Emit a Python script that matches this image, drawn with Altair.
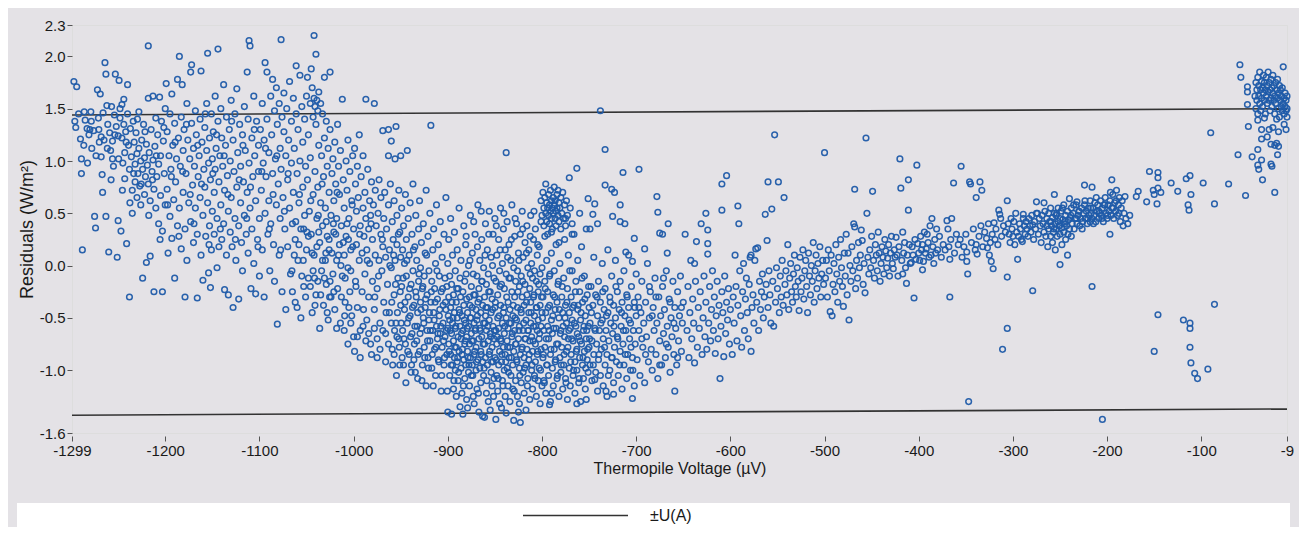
import altair as alt
import pandas as pd

# ---------------- data (Thermopile Voltage µV, Residual W/m²) ----------------
pts_a = [(-1297,1.76),(-1294,1.71),(-1296,1.38),(-1295,1.32),(-1292,1.45),(-1290,1.21),(-1289,1.02),(-1289,0.88),(-1288,0.15),(-1286,1.47),(-1285,1.39),(-1283,1.31),(-1281,1.25),(-1280,1.30),(-1279,1.47),(-1278,1.12),(-1276,1.29),(-1275,0.47),(-1274,0.36),(-1272,1.68),(-1271,1.41),(-1270,1.18),(-1269,1.64),(-1268,1.23),(-1268,1.04),(-1267,0.87),(-1266,1.46),(-1265,1.20),(-1264,1.94),(-1263,1.83),(-1263,0.47),(-1262,1.53),(-1261,1.35),(-1260,0.13),(-1259,1.27),(-1258,1.10),(-1257,1.52),(-1256,1.19),(-1256,1.02),(-1255,0.95),(-1254,1.44),(-1253,1.83),(-1252,1.33),(-1251,0.08),(-1250,1.24),(-1250,0.43),
(-1249,1.77),(-1248,1.50),(-1248,1.41),(-1247,0.33),(-1246,1.54),(-1246,1.22),(-1245,0.98),(-1244,1.59),(-1244,1.35),(-1243,1.08),(-1243,0.83),(-1242,1.28),(-1241,0.21),(-1240,1.73),(-1240,1.45),(-1239,1.15),(-1238,0.92),(-1238,-0.30),(-1237,1.31),(-1236,1.04),(-1235,0.72),(-1235,0.50),(-1234,1.38),(-1233,1.18),(-1232,0.97),(-1232,0.80),(-1231,1.27),(-1230,1.07),(-1230,0.65),(-1229,0.88),(-1228,1.47),(-1228,1.12),(-1227,0.76),(-1226,1.00),(-1226,0.58),(-1225,1.20),(-1224,0.92),(-1224,-0.12),(-1223,1.35),(-1222,1.03),(-1222,0.68),(-1221,0.85),(-1220,1.16),(-1220,0.03),(-1219,0.96),(-1218,2.10),(-1218,1.60),(-1218,0.78),(-1217,1.08),(-1216,0.62),(-1216,0.09),(-1215,1.30),(-1214,0.90),(-1213,1.62),(-1213,1.01),(-1212,0.73),(-1212,-0.25),(-1211,1.14),(-1210,1.41),(-1210,0.55),(-1209,0.85),(-1208,1.25),(-1207,0.97),(-1207,0.40),(-1206,1.61),(-1205,1.05),(-1205,0.67),(-1204,1.38),(-1203,0.33),(-1203,-0.25),(-1202,1.19),(-1201,0.88),(-1200,1.50),(-1200,0.58)]

pts_b = [(-1199,1.74),(-1198,1.28),(-1198,0.73),(-1197,0.12),(-1196,1.05),(-1195,1.45),(-1195,0.47),(-1194,0.92),(-1193,1.64),(-1193,0.26),(-1192,1.15),(-1191,0.63),(-1190,1.36),(-1190,-0.12),(-1189,0.80),(-1188,1.02),(-1187,1.78),(-1187,0.38),(-1186,1.22),(-1185,2.00),(-1185,0.55),(-1184,0.95),(-1183,1.42),(-1183,0.16),(-1182,1.73),(-1181,0.70),(-1181,1.10),(-1180,1.30),(-1179,0.35),(-1179,-0.30),(-1178,0.88),(-1177,1.55),(-1177,0.05),(-1176,1.20),(-1175,0.60),(-1174,1.02),(-1173,1.85),(-1173,0.42),(-1172,1.92),(-1172,1.36),(-1171,0.77),(-1170,0.22),(-1170,1.12),(-1169,0.95),(-1168,1.48),(-1168,0.55),(-1167,1.25),(-1166,0.30),(-1166,-0.31),(-1165,0.85),(-1164,1.05),(-1163,1.40),(-1163,0.65),(-1162,1.86),(-1162,0.10),(-1161,1.18),(-1160,0.48),(-1160,-0.14),(-1159,0.92),(-1158,1.32),(-1158,0.75),(-1157,0.28),(-1156,1.10),(-1156,1.55),(-1155,2.03),(-1155,0.60),(-1154,0.98),(-1154,-0.07),(-1153,1.22),(-1153,0.38),(-1152,-0.21),(-1152,0.82),(-1151,1.45),(-1151,0.15),(-1150,1.02),(-1150,0.52),
(-1149,1.28),(-1148,0.70),(-1148,0.30),(-1147,1.62),(-1147,0.92),(-1146,1.12),(-1145,0.45),(-1145,-0.02),(-1144,2.07),(-1144,1.38),(-1143,0.80),(-1143,0.18),(-1142,1.05),(-1141,0.58),(-1141,1.50),(-1140,0.25),(-1140,1.22),(-1139,0.95),(-1138,1.73),(-1138,0.40),(-1137,0.72),(-1137,-0.23),(-1136,1.15),(-1135,1.42),(-1135,0.10),(-1134,0.86),(-1133,0.52),(-1133,-0.28),(-1132,1.30),(-1131,1.00),(-1131,0.32),(-1130,0.65),(-1130,1.58),(-1129,0.18),(-1128,1.20),(-1128,-0.40),(-1127,0.90),(-1126,0.45),(-1126,1.45),(-1125,0.05),(-1124,1.69),(-1124,0.75),(-1123,1.08),(-1122,0.38),(-1122,-0.32),(-1121,1.35),(-1120,0.60),(-1120,0.95),(-1119,0.22),(-1118,1.25),(-1118,-0.05),(-1117,0.80),(-1116,1.52),(-1116,0.48),(-1115,1.10),(-1114,0.30),(-1113,1.85),(-1113,0.70),(-1112,0.12),(-1112,1.40),(-1111,2.15),(-1111,0.98),(-1110,2.10),(-1110,0.55),(-1109,-0.22),(-1108,1.22),(-1108,0.35),(-1107,0.85),(-1106,1.62),(-1106,0.02),(-1105,1.05),(-1104,0.62),(-1104,-0.27),(-1103,1.38),(-1102,0.25),(-1101,0.90),(-1101,1.15),(-1100,0.45),(-1100,-0.10)]

pts_c = [(-1099,1.30),(-1098,0.72),(-1097,1.55),(-1097,0.15),(-1096,0.98),(-1095,1.20),(-1095,-0.30),(-1094,1.94),(-1094,0.50),(-1093,0.85),(-1092,1.85),(-1092,1.40),(-1091,0.30),(-1090,1.08),(-1090,0.62),(-1089,-0.05),(-1088,1.62),(-1088,0.40),(-1087,1.25),(-1086,1.78),(-1086,0.88),(-1085,0.20),(-1084,1.48),(-1084,-0.15),(-1083,1.02),(-1082,0.58),(-1082,1.70),(-1081,-0.56),(-1081,1.35),(-1080,0.78),(-1079,1.55),(-1079,0.10),(-1078,1.12),(-1078,0.45),(-1077,2.16),(-1077,0.92),(-1076,1.42),(-1076,-0.25),(-1075,0.65),(-1074,1.65),(-1074,1.28),(-1073,0.35),(-1072,1.05),(-1072,-0.42),(-1071,1.50),(-1070,0.82),(-1070,0.18),(-1069,1.20),(-1068,1.76),(-1068,0.55),(-1067,-0.08),(-1066,1.38),(-1066,0.98),(-1065,0.40),(-1064,1.60),(-1064,0.70),(-1063,1.12),(-1062,-0.35),(-1062,0.25),(-1061,1.91),(-1061,1.45),(-1060,0.88),(-1059,0.05),(-1059,1.30),(-1058,0.60),(-1057,1.82),(-1057,1.00),(-1056,0.35),(-1056,-0.50),(-1055,1.52),(-1054,0.75),(-1054,1.18),(-1053,-0.20),(-1052,1.40),(-1052,0.48),(-1051,0.95),(-1050,1.62),(-1050,0.15),
(-1049,1.80),(-1049,0.82),(-1048,1.25),(-1048,-0.12),(-1047,0.52),(-1046,1.55),(-1046,1.03),(-1045,1.88),(-1045,0.30),(-1044,1.70),(-1044,-0.45),(-1043,1.42),(-1043,0.68),(-1042,2.20),(-1042,1.60),(-1042,0.10),(-1041,1.52),(-1041,0.90),(-1040,2.02),(-1040,1.35),(-1040,-0.28),(-1039,1.58),(-1039,0.45),(-1038,1.48),(-1038,0.75),(-1037,1.66),(-1037,1.15),(-1036,0.22),(-1036,-0.60),(-1035,1.55),(-1035,0.60),(-1034,1.05),(-1034,-0.05),(-1033,1.45),(-1033,0.38),(-1032,0.85),(-1032,-0.38),(-1031,1.80),(-1031,1.22),(-1030,0.05),(-1030,0.55),(-1029,1.38),(-1029,-0.18),(-1028,0.95),(-1028,0.28),(-1027,1.12),(-1027,-0.52),(-1026,0.70),(-1026,0.15),(-1025,1.85),(-1025,1.30),(-1024,0.48),(-1024,-0.30),(-1023,0.88),(-1022,1.02),(-1022,-0.08),(-1021,0.32),(-1021,0.62),(-1020,1.18),(-1020,-0.42),(-1019,0.78),(-1018,0.05),(-1018,0.45),(-1017,1.35),(-1017,-0.22),(-1016,0.95),(-1015,0.20),(-1015,0.68),(-1014,-0.55),(-1014,1.10),(-1013,0.38),(-1012,1.59),(-1012,-0.10),(-1011,0.82),(-1010,0.10),(-1010,0.55),(-1009,-0.35),(-1008,1.00),(-1008,0.28),(-1007,0.72),(-1006,-0.02),(-1006,1.20),(-1005,0.45),(-1004,-0.25),(-1004,0.90),(-1003,0.15),(-1002,0.62),(-1002,-0.48),(-1001,1.05),(-1000,0.35),(-1000,-0.68),
(-1065,-0.25),(-1063,0.10),(-1060,-0.40),(-1058,0.20),(-1055,-0.10),(-1053,0.35),(-1051,-0.30),(-1048,0.28),(-1046,-0.20),(-1044,0.12),(-1043,-0.05),(-1041,-0.38),(-1039,0.18),(-1038,-0.15),(-1037,0.32),(-1035,-0.28),(-1033,0.05),(-1031,-0.12),(-1029,0.42),(-1028,-0.45),(-1026,0.25),(-1025,-0.15),(-1023,0.12),(-1021,-0.25),(-1019,0.30),(-1018,-0.60),(-1016,0.10),(-1013,-0.30),(-1011,0.22),(-1009,-0.12),(-1007,0.40),(-1005,-0.40),(-1003,-0.05),(-1001,0.18),
(-1010,-0.62),(-1006,-0.75),(-1003,-0.55),(-999,-0.82),(-996,-0.68),(-993,-0.88),(-990,-0.58),(-987,-0.72),(-984,-0.65),(-981,-0.85),(-978,-0.60),(-975,-0.70),(-972,-0.80),(-969,-0.62),(-966,-0.92),(-963,-0.75),(-960,-0.55),(-957,-0.85),(-954,-0.68),(-951,-0.95)]

pts_left_extra = [(-1286.5,1.15),(-1282.5,0.98),(-1278.5,1.38),(-1273.5,1.05),(-1270.5,1.30),(-1266.5,0.70),(-1261.5,1.12),(-1257.5,0.82),(-1253.5,1.25),(-1249.5,1.02),(-1245.5,0.72),(-1241.5,1.18),(-1237.5,0.60),(-1233.5,0.88),(-1229.5,1.40),(-1225.5,0.78),(-1221.5,1.28),(-1217.5,0.48),(-1213.5,0.82),(-1209.5,1.05),(-1205.5,0.25),(-1201.5,1.32),(-1197.5,0.58),(-1193.5,0.85),(-1189.5,1.18),(-1185.5,0.28),(-1181.5,0.90),(-1177.5,1.35),(-1173.5,0.68),(-1169.5,0.40),(-1165.5,1.15),(-1161.5,0.78),(-1157.5,1.45),(-1153.5,0.20),(-1149.5,0.88),(-1145.5,1.25),(-1141.5,0.35),(-1137.5,1.05),(-1133.5,0.68),(-1129.5,1.38),(-1125.5,0.25),(-1121.5,0.82),(-1117.5,1.15),(-1113.5,0.45),(-1109.5,0.75),(-1105.5,1.30),(-1101.5,0.18),(-1097.5,0.90),(-1093.5,1.12),(-1089.5,0.35),(-1085.5,0.68),(-1081.5,1.05),(-1077.5,0.15),(-1073.5,0.52),(-1069.5,0.88),(-1065.5,-0.05),(-1061.5,0.42),(-1057.5,0.68),(-1053.5,0.05),(-1049.5,0.32),(-1045.5,0.62),(-1041.5,-0.12),(-1037.5,0.48),(-1033.5,0.78),(-1029.5,0.12),(-1025.5,-0.30),(-1021.5,0.40),(-1017.5,0.70),(-1013.5,0.00),(-1009.5,-0.48),(-1005.5,0.25),(-1001.5,0.58),(-997.5,-0.20),(-993.5,0.30),(-989.5,-0.42),(-985.5,0.05),(-981.5,0.40),(-977.5,-0.30),(-973.5,-0.10),(-969.5,0.25),(-965.5,-0.45),(-961.5,0.00)]

pts_d = [(-999,1.12),(-998,0.78),(-998,-0.15),(-997,0.52),(-997,0.20),(-996,0.95),(-996,-0.40),(-995,0.65),(-994,0.05),(-994,1.25),(-993,0.38),(-993,-0.62),(-992,0.85),(-991,0.12),(-991,-0.25),(-990,0.55),(-990,1.05),(-989,0.28),(-988,-0.08),(-988,0.70),(-987,1.59),(-987,0.45),(-986,-0.52),(-986,0.15),(-985,0.92),(-984,0.35),(-984,-0.30),(-983,0.62),(-983,0.02),(-982,-0.75),(-982,0.48),(-981,0.80),(-980,-0.15),(-980,0.25),(-979,0.58),(-978,1.55),(-978,-0.42),(-977,0.10),(-977,0.72),(-976,0.38),(-975,-0.22),(-975,-0.88),(-974,0.50),(-973,0.05),(-973,0.82),(-972,-0.55),(-971,0.30),(-971,0.65),(-970,-0.05),(-969,1.29),(-969,0.18),(-968,-0.35),(-968,0.45),(-967,0.70),(-966,-0.65),(-966,0.08),(-965,0.35),(-964,-0.18),(-963,1.30),(-963,1.05),(-963,0.58),(-962,-0.45),(-962,0.15),(-961,0.78),(-960,1.19),(-960,-0.02),(-959,0.42),(-959,-0.80),(-958,0.25),(-957,-0.28),(-957,0.62),(-956,1.02),(-956,0.05),(-955,1.33),(-955,-0.55),(-954,0.48),(-954,0.20),(-953,-0.12),(-952,0.72),(-952,-0.70),(-951,0.32),(-950,1.05),(-950,-0.38),(-950,0.08),
(-949,0.55),(-949,-0.20),(-948,-0.62),(-948,0.15),(-947,-0.95),(-947,0.38),(-946,-0.42),(-946,0.02),(-945,0.68),(-945,-0.75),(-944,-0.10),(-944,0.25),(-943,1.10),(-943,-0.55),(-942,-0.30),(-942,0.45),(-941,-0.85),(-941,0.10),(-940,-0.48),(-940,0.60),(-939,-0.18),(-939,-1.02),(-938,0.30),(-938,-0.65),(-937,-0.05),(-937,0.78),(-936,-0.38),(-936,-0.90),(-935,0.18),(-935,-0.58),(-934,-0.25),(-934,0.48),(-933,-0.72),(-933,0.05),(-932,-0.45),(-932,-1.08),(-931,0.35),(-931,-0.15),(-930,-0.82),(-930,0.62),(-929,-0.35),(-929,-0.02),(-928,-0.60),(-928,0.22),(-927,-0.95),(-927,-0.22),(-926,0.40),(-926,-0.50),(-925,-0.10),(-925,-0.78),(-924,0.12),(-924,-0.40),(-923,0.72),(-923,-1.15),(-922,-0.62),(-922,-0.28),(-921,0.28),(-921,-0.88),(-920,-0.05),(-920,-0.52),(-919,0.50),(-919,-0.72),(-918,1.34),(-918,-0.35),(-917,-0.15),(-917,-0.98),(-916,0.15),(-916,-0.62),(-915,-0.45),(-915,0.35),(-914,-0.80),(-914,-0.22),(-913,0.02),(-913,-1.05),(-912,-0.58),(-912,0.58),(-911,-0.32),(-911,-0.70),(-910,0.20),(-910,-0.90),(-909,-0.48),(-909,-0.10),(-908,-0.65),(-908,0.42),(-907,-1.20),(-907,-0.25),(-906,-0.78),(-906,0.08),(-905,-0.55),(-905,-0.38),(-904,0.30),(-904,-0.95),(-903,-0.68),(-903,-0.12),(-902,-0.42),(-902,0.65),(-901,-0.85),(-901,-0.20),(-900,0.02),(-900,-0.60),(-900,-1.40)]

pts_e = [(-899,-0.75),(-899,-0.30),(-899,0.25),(-898,-1.05),(-898,-0.52),(-898,-0.10),(-897,-0.85),(-897,-0.40),(-897,0.45),(-896,-1.42),(-896,-0.65),(-896,-0.18),(-895,-0.95),(-895,-0.55),(-895,0.10),(-894,-1.18),(-894,-0.72),(-894,-0.28),(-893,-0.88),(-893,-0.45),(-893,0.32),(-892,-1.00),(-892,-0.60),(-892,-0.05),(-891,-0.78),(-891,-0.35),(-891,-1.25),(-890,-0.92),(-890,-0.50),(-890,0.15),(-889,-1.10),(-889,-0.68),(-889,-0.22),(-888,-0.82),(-888,-0.42),(-888,0.55),(-887,-1.35),(-887,-0.58),(-887,-0.12),(-886,-0.98),(-886,-0.70),(-886,0.05),(-885,-0.48),(-885,-0.85),(-885,-1.22),(-884,-1.42),(-884,-0.62),(-884,-0.25),(-883,-0.90),(-883,-0.38),(-883,0.38),(-882,-1.08),(-882,-0.75),(-882,-0.15),(-881,-0.55),(-881,-0.95),(-881,0.20),(-880,-1.28),(-880,-0.68),(-880,-0.32),(-879,-1.36),(-879,-0.82),(-879,-0.45),(-878,-1.02),(-878,-0.58),(-878,0.00),(-877,-0.75),(-877,-0.30),(-877,-1.15),(-876,-0.88),(-876,-0.50),(-876,0.48),(-875,-0.65),(-875,-0.20),(-875,-1.05),(-874,-0.95),(-874,-0.40),(-874,0.12),(-873,-1.25),(-873,-0.72),(-873,-0.08),(-872,-0.85),(-872,-0.55),(-872,-1.32),(-871,-0.62),(-871,-0.28),(-871,0.30),(-870,-1.00),(-870,-0.78),(-870,-0.42),(-869,-1.18),(-869,-0.52),(-869,-0.10),(-868,-0.90),(-868,-0.35),(-868,0.58),(-867,-1.40),(-867,-0.70),(-867,-0.22),(-866,-0.98),(-866,-0.60),(-866,0.05),(-865,-0.82),(-865,-0.45),(-865,-1.12),(-864,-0.68),(-864,-0.15),(-864,0.25),(-863,-1.44),(-863,-0.92),(-863,-0.38),(-862,-1.05),(-862,-0.55),(-862,-0.02),(-861,-1.45),(-861,-0.75),(-861,-0.30),(-860,-0.88),(-860,-0.48),(-860,0.40),(-859,-1.22),(-859,-0.62),(-859,-0.18),(-858,-0.95),(-858,-0.40),(-858,0.15),(-857,-1.30),(-857,-0.72),(-857,-0.08),(-856,-0.85),(-856,-0.52),(-856,0.52),(-855,-1.38),(-855,-0.65),(-855,-0.25),(-854,-1.02),(-854,-0.45),(-854,0.08),(-853,-0.78),(-853,-0.32),(-853,-1.15),(-852,-0.92),(-852,-0.58),(-852,0.30),(-851,-1.08),(-851,-0.70),(-851,-0.12)]

pts_f = [(-850,-0.88),(-850,-0.40),(-850,0.45),(-849,-1.47),(-849,-0.62),(-849,-0.15),(-848,-1.05),(-848,-0.75),(-848,0.10),(-847,-0.50),(-847,-0.28),(-847,-1.20),(-846,-0.95),(-846,-0.60),(-846,0.25),(-845,-1.32),(-845,-0.82),(-845,-0.05),(-844,-0.70),(-844,-0.38),(-844,0.55),(-843,-1.36),(-843,-0.92),(-843,-0.18),(-842,-1.10),(-842,-0.55),(-842,0.02),(-841,-0.78),(-841,-0.45),(-841,0.35),(-840,-1.00),(-840,-0.65),(-840,-0.22),(-839,-1.25),(-839,-0.85),(-839,0.15),(-838,-1.41),(-838,-0.50),(-838,-0.08),(-838,1.08),(-837,-0.98),(-837,-0.72),(-837,0.42),(-836,-1.15),(-836,-0.35),(-836,-0.60),(-835,-0.88),(-835,-0.12),(-835,0.20),(-834,-1.30),(-834,-0.78),(-834,-0.42),(-833,-1.05),(-833,-0.55),(-833,0.05),(-832,-0.68),(-832,-0.25),(-832,0.58),(-831,-0.95),(-831,-0.48),(-831,-1.18),(-830,-1.48),(-830,-0.82),(-830,-0.02),(-829,-0.62),(-829,-0.30),(-829,0.28),(-828,-1.10),(-828,-0.75),(-828,-0.15),(-827,-0.90),(-827,-0.52),(-827,0.40),(-826,-1.25),(-826,-0.40),(-826,-0.05),(-825,-1.40),(-825,-0.70),(-825,0.12),(-824,-0.98),(-824,-0.58),(-824,-0.20),(-823,-1.50),(-823,-0.85),(-823,0.30),(-822,-1.12),(-822,-0.45),(-822,-0.10),(-821,-0.78),(-821,-0.30),(-821,0.52),(-820,-1.02),(-820,-0.62),(-820,0.08),(-819,-0.88),(-819,-0.38),(-819,-1.22),(-818,-0.70),(-818,-0.18),(-818,0.22),(-817,-1.38),(-817,-0.95),(-817,-0.52),(-816,-0.80),(-816,-0.28),(-816,0.38),(-815,-1.08),(-815,-0.62),(-815,-0.02),(-814,-0.90),(-814,-0.45),(-814,0.15),(-813,-1.28),(-813,-0.72),(-813,-0.22),(-812,-0.55),(-812,-0.35),(-812,0.48),(-811,-1.00),(-811,-0.68),(-811,0.02),(-810,-1.18),(-810,-0.82),(-810,-0.12),(-809,-0.58),(-809,-0.30),(-809,0.25),(-808,-1.05),(-808,-0.48),(-808,-0.05),(-807,-0.92),(-807,-0.75),(-807,0.35),(-806,-1.25),(-806,-0.40),(-806,-0.15),(-805,-0.85),(-805,-0.62),(-805,0.10),(-804,-1.10),(-804,-0.52),(-804,-0.25),(-803,-0.98),(-803,-0.70),(-803,0.18),(-802,-1.32),(-802,-0.38),(-802,-0.08),(-801,-0.80),(-801,-0.58),(-801,0.42),(-800,-1.15),(-800,-0.45),(-800,-0.02)]

pts_blob = [(-801,0.62),(-800,0.48),(-799,0.70),(-798,0.55),(-798,0.38),(-797,0.65),(-796,0.50),(-796,0.78),(-795,0.42),(-795,0.60),(-794,0.55),(-794,0.30),(-793,0.68),(-793,0.48),(-792,0.58),(-792,0.40),(-791,0.72),(-791,0.52),(-790,0.62),(-790,0.45),(-789,0.55),(-789,0.35),(-788,0.65),(-788,0.50),(-787,0.58),(-787,0.75),(-786,0.45),(-786,0.62),(-785,0.52),(-785,0.38),(-784,0.68),(-784,0.55),(-783,0.48),(-783,0.72),(-782,0.60),(-782,0.42),(-781,0.55),(-780,0.65),(-780,0.35),(-779,0.50),(-778,0.70),(-777,0.45),(-776,0.58),(-775,0.38),(-774,0.62),(-773,0.48),(-771,0.84),(-770,0.55),(-768,0.30),(-763,0.93)]

pts_g = [(-799,-0.88),(-799,-0.30),(-798,-1.10),(-798,-0.62),(-797,-0.15),(-797,-0.78),(-796,-1.22),(-796,-0.45),(-795,0.05),(-795,-0.95),(-794,-0.58),(-794,-0.25),(-793,-1.05),(-793,-0.70),(-792,-0.10),(-792,-0.38),(-791,-0.85),(-791,-1.30),(-790,-0.52),(-790,0.12),(-789,-0.98),(-789,-0.65),(-788,-0.28),(-788,-1.15),(-787,-0.80),(-787,-0.05),(-786,-0.42),(-786,-0.92),(-785,-0.60),(-785,0.20),(-784,-1.08),(-784,-0.35),(-783,-0.75),(-783,-0.18),(-782,-1.25),(-782,-0.50),(-781,-0.88),(-781,0.02),(-780,-0.62),(-780,-1.02),(-779,-0.30),(-779,-0.78),(-778,-1.18),(-778,-0.45),(-777,-0.12),(-777,-0.95),(-776,-0.68),(-776,0.25),(-775,-1.08),(-775,-0.38),(-774,-0.82),(-774,-0.55),(-773,-0.22),(-773,-1.28),(-772,-0.70),(-772,0.10),(-771,-0.98),(-771,-0.45),(-770,-0.60),(-770,-1.15),(-769,-0.30),(-769,-0.85),(-768,-0.05),(-768,-0.52),(-767,-1.05),(-767,-0.72),(-766,-0.38),(-766,0.30),(-765,-0.92),(-765,-1.22),(-764,-0.58),(-764,-0.15),(-763,-0.80),(-763,-1.00),(-762,-0.42),(-762,0.05),(-761,-0.68),(-761,-1.12),(-760,-0.25),(-760,-0.88),(-759,-0.52),(-759,-1.30),(-758,-0.75),(-758,0.18),(-757,-0.95),(-757,-0.35),(-756,-0.62),(-756,-1.08),(-755,-0.10),(-755,-0.82),(-754,-0.48),(-754,-1.18),(-753,-0.70),(-753,0.35),(-752,-0.90),(-752,-0.28),(-751,-0.58),(-751,-1.02),(-750,-0.40),(-750,-0.78),
(-797,0.28),(-790,0.32),(-782,0.22),(-775,0.45),(-768,0.40),(-760,0.50),
(-749,-0.55),(-749,-0.95),(-748,-0.20),(-747,-0.72),(-747,-1.10),(-746,-0.38),(-745,-0.85),(-745,0.08),(-744,-0.60),(-743,-1.02),(-743,-0.28),(-742,-0.75),(-741,-0.48),(-741,-1.20),(-740,-0.15),(-740,-0.90),(-739,-0.62),(-738,-0.35),(-738,-1.05),(-737,-0.80),(-736,0.02),(-736,-0.52),(-735,-0.70),(-735,-1.15),(-734,-0.42),(-733,-0.95),(-733,-0.22),(-732,-0.62),(-731,-0.85),(-731,-1.25),(-730,-0.45),(-730,0.15),(-729,-0.72),(-728,-0.30),(-728,-1.00),(-727,-0.55),(-726,-0.88),(-726,-0.10),(-725,-0.65),(-724,-1.12),(-724,-0.38),(-723,-0.78),(-722,-0.50),(-722,0.05),(-721,-0.92),(-720,-0.25),(-720,-0.68),(-719,-1.05),(-718,-0.42),(-717,-0.82),(-717,-0.15),(-716,-0.58),(-715,-1.18),(-715,-0.35),(-714,-0.75),(-713,-0.05),(-713,-0.95),(-712,-0.48),(-711,-0.62),(-710,-0.28),(-710,-1.08),(-709,-0.85),(-708,-0.40),(-708,0.10),(-707,-0.70),(-706,-0.55),(-706,-1.00),(-705,-0.20),(-704,-0.88),(-703,-0.62),(-702,-0.35),(-702,-1.15),(-701,-0.75),(-700,-0.48),(-700,-0.08),
(-824,-1.32),(-792,-1.33),(-763,-1.32),(-753,-1.28),(-732,-1.20),(-724,-1.23),(-704,-1.27),(-659,-1.20),(-744,-1.09),(-738,1.48),(-733,1.11),(-733,0.77),(-726,0.73),(-723,0.70),(-717,0.58),(-725,0.47),(-717,0.42),(-712,0.40),(-714,0.89),(-697,0.92),(-678,0.66),(-677,0.51),(-666,0.40),(-675,0.31),(-672,0.30),(-667,0.12),(-702,0.26),(-691,0.16),(-711,0.13),(-704,0.04),(-751,0.64),(-744,0.59),(-746,0.49),(-741,0.40),(-749,0.35)]

pts_dense_extra = [(-959.5,-0.35),(-958.5,-0.95),(-957.5,0.10),(-956.5,-0.62),(-955.5,-0.18),(-954.5,-1.05),(-953.5,-0.45),(-952.5,0.30),(-951.5,-0.78),(-950.5,-0.25),(-949.5,-0.55),(-948.5,-0.88),(-947.5,-0.12),(-946.5,-0.70),(-945.5,-0.35),(-944.5,-1.12),(-943.5,0.05),(-942.5,-0.82),(-941.5,-0.50),(-940.5,-0.22),(-939.5,-0.68),(-938.5,-0.95),(-937.5,-0.40),(-936.5,0.15),(-935.5,-0.75),(-934.5,-1.02),(-933.5,-0.30),(-932.5,-0.58),(-931.5,-0.85),(-930.5,-0.08),(-929.5,-0.65),(-928.5,-0.42),(-927.5,-1.10),(-926.5,-0.20),(-925.5,-0.55),(-924.5,-0.88),(-923.5,-0.32),(-922.5,0.10),(-921.5,-0.72),(-920.5,-0.98),(-919.5,-0.45),(-918.5,-0.62),(-917.5,-0.25),(-916.5,-0.85),(-915.5,-1.15),(-914.5,-0.52),(-913.5,-0.35),(-912.5,-0.78),(-911.5,-0.05),(-910.5,-0.65),(-909.5,-0.92),(-908.5,-0.42),(-907.5,-0.58),(-906.5,-1.05),(-905.5,-0.22),(-904.5,-0.72),(-903.5,-0.88),(-902.5,-0.35),(-901.5,-0.62),(-900.5,-1.20),
(-899.5,-0.48),(-898.5,-0.82),(-897.5,-0.62),(-896.5,-0.95),(-895.5,-0.35),(-894.5,-0.50),(-893.5,-1.10),(-892.5,-0.78),(-891.5,-0.58),(-890.5,-0.22),(-889.5,-0.88),(-888.5,-1.02),(-887.5,-0.45),(-886.5,-0.30),(-885.5,-0.65),(-884.5,-0.80),(-883.5,-1.15),(-882.5,-0.52),(-881.5,-0.72),(-880.5,-0.08),(-879.5,-0.60),(-878.5,-0.88),(-877.5,-0.95),(-876.5,-0.38),(-875.5,-0.50),(-874.5,-0.72),(-873.5,-1.05),(-872.5,-0.28),(-871.5,-0.82),(-870.5,-0.60),(-869.5,-0.92),(-868.5,-0.48),(-867.5,-1.22),(-866.5,-0.32),(-865.5,-0.62),(-864.5,-0.85),(-863.5,-0.15),(-862.5,-0.75),(-861.5,-0.98),(-860.5,-0.55),(-859.5,-0.40),(-858.5,-1.10),(-857.5,-0.58),(-856.5,-0.25),(-855.5,-0.82),(-854.5,-0.68),(-853.5,-0.92),(-852.5,-0.42),(-851.5,-1.25),(-850.5,-0.62),
(-849.5,-0.35),(-848.5,-0.90),(-847.5,-0.68),(-846.5,-1.08),(-845.5,-0.48),(-844.5,-0.20),(-843.5,-0.72),(-842.5,-0.85),(-841.5,-1.15),(-840.5,-0.40),(-839.5,-0.58),(-838.5,-0.92),(-837.5,-0.30),(-836.5,-0.78),(-835.5,-1.02),(-834.5,-0.55),(-833.5,-0.12),(-832.5,-0.88),(-831.5,-0.65),(-830.5,-0.38),(-829.5,-1.20),(-828.5,-0.50),(-827.5,-0.75),(-826.5,-0.92),(-825.5,-0.25),(-824.5,-0.62),(-823.5,-1.05),(-822.5,-0.42),(-821.5,-0.80),(-820.5,-0.15),(-819.5,-0.55),(-818.5,-0.98),(-817.5,-0.70),(-816.5,-0.35),(-815.5,-1.15),(-814.5,-0.62),(-813.5,-0.85),(-812.5,-0.08),(-811.5,-0.45),(-810.5,-0.95),(-809.5,-0.72),(-808.5,-0.28),(-807.5,-1.08),(-806.5,-0.58),(-805.5,-0.40),(-804.5,-0.82),(-803.5,-0.18),(-802.5,-0.65),(-801.5,-1.00),(-800.5,-0.30),
(-799.5,-0.50),(-798.5,-0.85),(-797.5,-1.12),(-796.5,-0.22),(-795.5,-0.70),(-794.5,-0.95),(-793.5,-0.40),(-792.5,-0.62),(-791.5,-0.08),(-790.5,-0.80),(-789.5,-1.22),(-788.5,-0.48),(-787.5,-0.60),(-786.5,-0.30),(-785.5,-0.90),(-784.5,-0.75),(-783.5,-1.05),(-782.5,-0.15),(-781.5,-0.42),(-780.5,-0.65),(-779.5,-0.95),(-778.5,-0.20),(-777.5,-0.58),(-776.5,-0.85),(-775.5,-0.50),(-774.5,-1.12),(-773.5,-0.35),(-772.5,-0.78),(-771.5,-0.62),(-770.5,-0.05),(-769.5,-0.92),(-768.5,-0.70),(-767.5,-0.40),(-766.5,-1.00),(-765.5,-0.55),(-764.5,-0.25),(-763.5,-0.82),(-762.5,-0.65),(-761.5,-0.38),(-760.5,-1.08),(-759.5,-0.72),(-758.5,-0.45),(-757.5,-0.12),(-756.5,-0.88),(-755.5,-0.58),(-754.5,-0.32),(-753.5,-0.98),(-752.5,-0.62),(-751.5,-0.80),(-750.5,-0.20),
(-749.5,-0.70),(-747.5,-0.45),(-745.5,-0.95),(-743.5,-0.62),(-741.5,-0.30),(-739.5,-0.85),(-737.5,-0.55),(-735.5,-0.25),(-733.5,-0.78),(-731.5,-0.48),(-729.5,-1.05),(-727.5,-0.35),(-725.5,-0.88),(-723.5,-0.58),(-721.5,-0.20),(-719.5,-0.70),(-717.5,-0.95),(-715.5,-0.45),(-713.5,-0.62),(-711.5,-0.85),(-709.5,-0.30),(-707.5,-0.52),(-705.5,-0.78),(-703.5,-1.00),(-701.5,-0.40),
(-880.5,0.28),(-876.5,0.05),(-872.5,0.42),(-868.5,0.18),(-864.5,0.52),(-860.5,0.10),(-856.5,0.30),(-852.5,0.00),(-848.5,0.38),(-844.5,0.15),(-840.5,0.50),(-836.5,0.08),(-832.5,0.25),(-828.5,0.45),(-824.5,0.05),(-820.5,0.35),(-816.5,0.12),(-812.5,0.28),(-808.5,0.52),(-804.5,0.20)]

pts_h = [(-699,-0.90),(-698,-0.30),(-697,-0.62),(-696,-1.05),(-695,-0.45),(-694,-0.15),(-693,-0.78),(-692,-0.55),(-691,-1.12),(-690,-0.35),(-689,-0.68),(-688,0.02),(-687,-0.92),(-686,-0.50),(-685,-0.25),(-684,-0.80),(-683,-1.00),(-682,-0.40),(-681,-0.62),(-680,-0.12),(-679,-0.85),(-678,-0.55),(-677,-1.08),(-676,-0.30),(-675,-0.72),(-674,-0.48),(-673,-0.95),(-672,-0.20),(-671,-0.65),(-670,-0.42),(-669,-0.88),(-668,-0.05),(-667,-0.58),(-666,-0.78),(-665,-0.32),(-664,-1.02),(-663,-0.50),(-662,-0.68),(-661,-0.15),(-660,-0.85),(-659,-0.40),(-658,-0.60),(-657,-0.95),(-656,-0.25),(-655,-0.72),(-654,-0.48),(-653,-0.10),(-652,-0.82),(-651,-0.55),(-650,-0.35),
(-697,-0.40),(-694,-0.70),(-690,-0.85),(-686,-0.20),(-683,-0.48),(-679,-0.30),(-675,-0.95),(-671,-0.12),(-668,-0.75),(-664,-0.35),(-660,-0.55),(-656,-0.88),(-652,-0.40),
(-648,0.30),(-646,-0.62),(-645,-0.20),(-644,-0.88),(-643,-0.45),(-642,0.05),(-641,-0.70),(-640,-0.32),(-639,-0.55),(-638,0.02),(-638,-0.93),(-637,-0.15),(-636,0.23),(-635,-0.78),(-634,-0.40),(-633,-0.60),(-632,-0.25),(-631,0.40),(-630,-0.85),(-629,-0.50),(-628,-0.10),(-627,-0.68),(-626,0.50),(-626,-0.35),(-625,-0.80),(-624,0.34),(-624,0.21),(-624,0.11),(-623,-0.55),(-622,-0.20),(-621,-0.72),(-620,-0.42),(-619,-0.05),(-618,-0.62),(-617,-0.30),(-616,-0.84),(-615,-0.48),(-614,-0.15),(-613,-0.70),(-612,-0.38),(-611,-1.08),(-610,-0.58),(-609,0.78),(-609,0.53),(-609,-0.25),(-608,-0.45),(-607,-0.87),(-606,-0.10),(-605,-0.65),(-604,0.86),(-604,-0.35),(-603,-0.52),(-602,-0.22),(-601,-0.75),(-600,-0.42),(-598,-0.85),(-597,-0.30)]

pts_i = [(-596,-0.55),(-595,0.10),(-594,-0.20),(-593,-0.72),(-592,0.57),(-592,-0.38),(-591,0.40),(-590,-0.05),(-589,-0.48),(-588,-0.78),(-587,-0.25),(-586,0.02),(-585,-0.62),(-584,-0.32),(-583,-0.12),(-582,-0.45),(-581,-0.70),(-580,-0.18),(-579,0.08),(-578,0.10),(-578,-0.82),(-577,-0.40),(-576,-0.28),(-575,-0.55),(-574,0.05),(-573,0.16),(-572,-0.35),(-571,0.17),(-570,-0.62),(-569,-0.15),(-568,-0.42),(-567,-0.25),(-566,-0.08),(-565,-0.50),(-564,-0.30),(-563,0.49),(-562,-0.18),(-561,0.24),(-560,0.80),(-560,-0.40),(-559,-0.05),(-558,-0.28),(-557,-0.55),(-556,0.54),(-555,-0.15),(-554,-0.58),(-553,1.25),(-552,-0.35),(-551,-0.02),(-550,-0.22),(-549,0.80),(-548,-0.45),(-547,-0.10),(-546,-0.30),(-545,0.05),(-544,-0.38),(-543,0.65),(-542,-0.18),(-541,-0.05),(-540,-0.28),(-539,0.20),(-538,-0.42),(-537,-0.12),(-536,0.02),(-535,-0.25),(-534,-0.35),(-533,-0.08),(-532,0.10),(-531,-0.20),(-530,-0.30),(-529,-0.02),(-528,-0.15),(-527,-0.43),(-526,0.08),(-525,-0.25),(-524,-0.12),(-523,0.15),(-522,-0.32),(-521,-0.05),(-520,0.05),(-519,-0.20),(-518,-0.45),(-517,0.12),(-516,-0.10),(-515,-0.28),(-514,0.00),(-513,-0.15),(-512,0.22),(-511,-0.35),(-510,-0.05),(-509,0.10),(-508,-0.22),(-507,0.02),(-506,-0.12),(-505,0.18),(-504,-0.30),(-503,-0.08),(-502,0.05),(-501,-0.18),(-500,1.08)]

pts_j = [(-499,-0.12),(-498,0.05),(-497,-0.30),(-496,0.15),(-495,-0.05),(-494,-0.44),(-493,0.10),(-492,-0.48),(-491,-0.18),(-490,0.02),(-489,-0.25),(-488,0.20),(-487,-0.08),(-486,-0.35),(-485,0.08),(-484,-0.15),(-483,0.25),(-482,-0.02),(-481,-0.20),(-480,-0.39),(-479,0.12),(-478,-0.10),(-477,0.30),(-476,-0.28),(-475,0.12),(-474,-0.52),(-473,0.00),(-472,-0.15),(-471,0.18),(-470,-0.05),(-469,0.40),(-468,0.73),(-468,0.37),(-467,-0.22),(-466,0.05),(-465,-0.12),(-464,0.22),(-463,-0.02),(-462,0.10),(-461,0.34),(-460,0.24),(-459,-0.18),(-458,0.02),(-457,-0.26),(-456,1.22),(-455,0.50),(-454,0.08),(-453,-0.08),(-452,0.15),(-451,-0.02),(-450,0.28),(-449,0.71),(-448,0.05),(-447,-0.12),(-446,0.20),(-445,0.10),(-444,-0.05),(-443,0.32),(-442,0.12),(-441,-0.15),(-440,0.02),(-439,0.18),(-438,0.08),(-437,-0.08),(-436,0.25),(-435,0.14),(-434,-0.02),(-433,0.07),(-432,0.20),(-431,-0.10),(-430,0.12),(-429,0.28),(-428,0.02),(-427,-0.03),(-426,0.15),(-425,0.08),(-424,0.27),(-423,0.10),(-422,-0.10),(-421,0.18),(-420,1.02),(-419,0.74),(-418,0.05),(-417,0.32),(-417,-0.08),(-416,0.12),(-415,0.22),(-414,-0.02),(-413,-0.17),(-412,0.10),(-411,0.82),(-411,0.53),(-410,0.20),(-409,0.02),(-408,0.03),(-407,0.18),(-406,0.10),(-405,-0.31),(-404,0.25),(-403,0.06),(-402,0.96),(-401,0.21),(-400,0.12)]

pts_k = [(-399,0.05),(-398,0.28),(-397,0.15),(-396,0.20),(-396,-0.04),(-395,0.04),(-394,0.32),(-393,0.12),(-392,0.16),(-391,0.30),(-390,0.22),(-389,0.08),(-388,0.38),(-387,0.10),(-386,0.45),(-385,0.18),(-384,0.02),(-383,0.25),(-382,0.12),(-381,0.35),(-380,0.15),(-378,0.28),(-376,0.08),(-374,0.20),(-372,0.15),(-370,0.43),(-369,0.35),(-368,0.18),(-367,0.06),(-367,-0.30),(-366,0.25),(-365,0.45),(-363,0.79),(-362,0.12),(-360,0.30),(-358,0.20),(-356,0.25),(-355,0.95),(-354,0.08),(-352,0.18),(-350,0.30),(-349,0.13),(-349,0.04),(-348,-0.08),(-347,-1.30),(-346,0.80),(-345,0.78),(-344,0.22),(-342,0.35),(-340,0.15),(-339,0.65),(-339,0.20),(-338,0.11),(-336,0.28),(-335,0.80),(-334,0.38),(-333,0.72),(-332,0.18),(-330,0.32),(-328,0.26),(-327,0.17),(-326,0.40),(-325,0.10),(-324,0.22),(-323,0.04),(-322,0.30),(-321,-0.03),(-320,0.41),(-319,0.25),(-318,0.35),(-316,0.20),(-315,0.53),(-314,0.49),(-313,0.45),(-312,0.28),(-311,-0.80),(-310,0.38),(-308,0.32),(-306,0.62),(-306,-0.11),(-306,-0.60),(-305,0.40),(-304,0.30),(-303,0.22),(-302,0.45),(-301,0.35),(-300,0.28)]

pts_l = [(-299,0.42),(-298,0.20),(-297,0.50),(-296,0.32),(-295,0.06),(-294,0.28),(-293,0.40),(-292,0.35),(-291,0.25),(-290,0.23),(-289,0.49),(-289,0.45),(-288,0.38),(-287,0.30),(-286,0.42),(-285,0.35),(-284,0.28),(-283,0.45),(-282,0.38),(-281,0.32),(-280,0.48),(-279,0.39),(-279,-0.24),(-278,0.25),(-277,0.42),(-276,0.35),(-275,0.61),(-275,0.50),(-274,0.50),(-273,0.30),(-272,0.45),(-271,0.38),(-270,0.22),(-269,0.48),(-268,0.40),(-267,0.60),(-267,0.32),(-266,0.52),(-265,0.28),(-264,0.45),(-264,0.38),(-263,0.18),(-262,0.50),(-262,0.35),(-261,0.42),(-260,0.28),(-260,0.55),(-259,0.38),(-258,0.46),(-258,0.22),(-257,0.32),(-256,0.68),(-256,0.50),(-255,0.40),(-255,0.15),(-254,0.35),(-254,0.48),(-253,0.28),(-252,0.42),(-252,0.55),(-251,0.38),(-250,0.01),(-250,0.45),(-250,0.30),(-249,0.52),(-248,0.36),(-248,0.20),(-247,0.44),(-246,0.58),(-246,0.32),(-245,0.40),(-244,0.48),(-244,0.25),(-243,0.38),(-242,0.10),(-242,0.52),(-241,0.44),(-240,0.64),(-240,0.35),(-239,0.46),(-238,0.28),(-238,0.55),(-237,0.40),(-236,0.50),(-235,0.35),(-234,0.45),(-233,0.58),(-232,0.61),(-232,0.40),(-231,0.48),(-230,0.52),(-229,0.38),(-228,0.45),(-227,0.55),(-226,0.42),(-225,0.50),(-224,0.77),(-224,0.58),(-223,0.45),(-222,0.52),(-221,0.40),(-220,0.55),(-219,0.48),(-218,0.62),(-218,0.42),(-217,0.50),(-216,0.75),(-216,-0.20),(-216,0.45),(-215,0.55),(-214,0.48),(-213,0.60),(-212,0.42),(-211,0.52),(-210,0.58),(-209,0.45),(-208,0.50),(-207,0.62),(-206,0.48),(-205,-1.47),(-205,0.55),(-204,0.42),(-203,0.58),(-202,0.65),(-201,0.50),(-200,0.45),(-199,0.58),(-198,0.52),(-197,0.30),(-197,0.62),(-196,0.48),(-195,0.82),(-195,0.55),(-194,0.68),(-193,0.45),(-192,0.60),(-191,0.52),(-190,0.72),(-189,0.48),(-188,0.58),(-187,0.65),(-186,0.42),(-185,0.55),(-184,0.62),(-183,0.38),(-182,0.50),(-181,0.66),(-180,0.45),(-178,0.40),(-176,0.48),
(-259.5,0.42),(-256.5,0.35),(-253.5,0.50),(-250.5,0.38),(-247.5,0.55),(-244.5,0.42),(-241.5,0.30),(-238.5,0.48),(-235.5,0.58),(-232.5,0.45),(-229.5,0.52),(-226.5,0.35),(-223.5,0.62),(-220.5,0.45),(-217.5,0.55),(-214.5,0.40),(-211.5,0.65),(-208.5,0.52),(-205.5,0.45),(-202.5,0.58),(-199.5,0.48),(-196.5,0.70),(-193.5,0.55),(-190.5,0.62),(-187.5,0.50)]

pts_m = [(-169,0.66),(-167,0.71),(-158,0.61),(-155,0.90),(-151,0.72),(-150,0.68),(-150,-0.82),(-147,0.59),(-146,0.89),(-146,0.84),(-146,0.74),(-146,-0.47),(-143,0.70),(-132,0.79),(-125,0.71),(-119,-0.52),(-116,0.83),(-114,0.58),(-113,0.53),(-112,0.86),(-112,-0.55),(-112,-0.60),(-112,-0.78),(-111,0.68),(-111,-0.93),(-107,-1.03),(-104,-1.08),(-98,0.79),(-93,-0.99),(-90,1.27),(-86,0.59),(-86,-0.37),(-71,0.78),(-61,1.06),(-59,1.92),(-58,1.80),
(-53,0.67),(-51,1.71),(-51,1.66),(-51,1.54),(-50,1.33),(-46,1.04),(-40,1.39),(-40,1.11),(-40,0.96),(-39,0.92),(-36,1.01),(-36,1.21),(-35,0.82),(-33,1.41),(-30,1.23),(-26,0.97),(-26,1.16),(-25,0.95),(-22,0.70),(-22,1.15),(-20,1.17),(-19,1.06),(-18,1.14),(-13,1.90),
(-43,1.62),(-42,1.75),(-42,1.50),(-41,1.68),(-41,1.58),(-40,1.80),(-40,1.45),(-39,1.72),(-39,1.62),(-38,1.55),(-38,1.85),(-37,1.68),(-37,1.48),(-36,1.76),(-36,1.60),(-35,1.70),(-35,1.52),(-34,1.82),(-34,1.65),(-33,1.58),(-33,1.75),(-32,1.68),(-32,1.45),(-31,1.80),(-31,1.62),(-30,1.72),(-30,1.55),(-29,1.66),(-29,1.85),(-28,1.58),(-28,1.75),(-27,1.68),(-27,1.48),(-26,1.78),(-26,1.60),(-25,1.70),(-25,1.52),(-24,1.65),(-24,1.82),(-23,1.58),(-23,1.72),(-22,1.62),(-22,1.45),(-21,1.75),(-21,1.55),(-20,1.68),(-20,1.40),(-19,1.60),(-19,1.78),(-18,1.50),(-18,1.65),(-17,1.72),(-17,1.42),(-16,1.58),(-16,1.68),(-15,1.52),(-15,1.62),(-14,1.48),(-14,1.70),(-13,1.55),(-12,1.60),(-12,1.45),(-11,1.52),(-11,1.65),(-10,1.48),(-10,1.58),(-9,1.50),(-9,1.62),(-9,1.42),
(-36,1.30),(-28,1.30),(-24,1.32),(-18,1.28),(-12,1.35),(-10,1.30)]

# ±U(A) limit lines
u_x = [-1299, -9]
u_upper = [1.44, 1.50]
u_lower = [-1.43, -1.37]

x_ticks = [-1299, -1200, -1100, -1000, -900, -800, -700, -600, -500, -400, -300, -200, -100, -9]
y_ticks = [-1.6, -1.0, -0.5, 0.0, 0.5, 1.0, 1.5, 2.0, 2.3]

# ---------------- build tables ----------------
all_pts = (pts_a + pts_b + pts_c + pts_left_extra + pts_d + pts_e + pts_f + pts_blob + pts_g
           + pts_dense_extra + pts_h + pts_i + pts_j + pts_k + pts_l + pts_m)
df_pts = pd.DataFrame(all_pts, columns=["v", "r"])

df_lines = pd.DataFrame({
    "v": u_x + u_x,
    "r": u_upper + u_lower,
    "grp": ["upper", "upper", "lower", "lower"],
    "series": ["±U(A)"] * 4,
})

FONT = "Liberation Sans"
MINUS = "\u2212"

xs = alt.Scale(domain=[-1299, -9], nice=False, zero=False)
ys = alt.Scale(domain=[-1.6, 2.3], nice=False, zero=False)

x_axis = alt.Axis(
    values=x_ticks, title="Thermopile Voltage (µV)", grid=False, domain=False,
    tickSize=5, tickColor="#555", labelPadding=2, offset=3,
    labelExpr=f"replace(format(datum.value, 'd'), '{MINUS}', '-')",
    labelFontSize=15, titleFontSize=16, titlePadding=2, labelColor="#1a1a1a",
    titleColor="#1a1a1a", titleFontWeight="normal", labelFlush=False,
)
y_axis = alt.Axis(
    values=y_ticks, title="Residuals (W/m²)", grid=False, domain=False,
    tickSize=5, tickColor="#555", labelPadding=2,
    labelExpr=f"replace(format(datum.value, '.1f'), '{MINUS}', '-')",
    labelFontSize=15, titleFontSize=18, titlePadding=3, labelColor="#1a1a1a",
    titleColor="#1a1a1a", titleFontWeight="normal", labelFlush=False,
)

lines = alt.Chart(df_lines).mark_line(strokeWidth=1.6).encode(
    x=alt.X("v:Q", scale=xs, axis=x_axis),
    y=alt.Y("r:Q", scale=ys, axis=y_axis),
    detail="grp:N",
    color=alt.Color(
        "series:N",
        scale=alt.Scale(domain=["±U(A)"], range=["#333333"]),
        legend=alt.Legend(
            title=None, orient="none", legendX=450, legendY=437,
            symbolType="stroke", symbolSize=11025, symbolStrokeWidth=1.5,
            labelFontSize=16, labelOffset=21, labelColor="#1a1a1a", padding=0,
        ),
    ),
)

points = alt.Chart(df_pts).mark_point(
    shape="circle", filled=False, size=32, strokeWidth=1.5, color="#1f5ba9", opacity=0.95
).encode(
    x=alt.X("v:Q", scale=xs),
    y=alt.Y("r:Q", scale=ys),
)

legend_box = alt.Chart(pd.DataFrame({"k": [0]})).mark_rect(color="white").encode(
    x=alt.value(-55), x2=alt.value(1218), y=alt.value(478), y2=alt.value(502)
)

chart = alt.layer(legend_box, lines, points).properties(
    width=1215, height=408,
    background="#e4e2e6",
    padding={"left": 64, "top": 17, "right": 12, "bottom": 94},
    autosize=alt.AutoSizeParams(type="none"),
).configure_view(
    fill="white", strokeWidth=0
).configure(
    font=FONT
)

chart.save("out.html", embed_options={"renderer": "svg", "actions": False})
